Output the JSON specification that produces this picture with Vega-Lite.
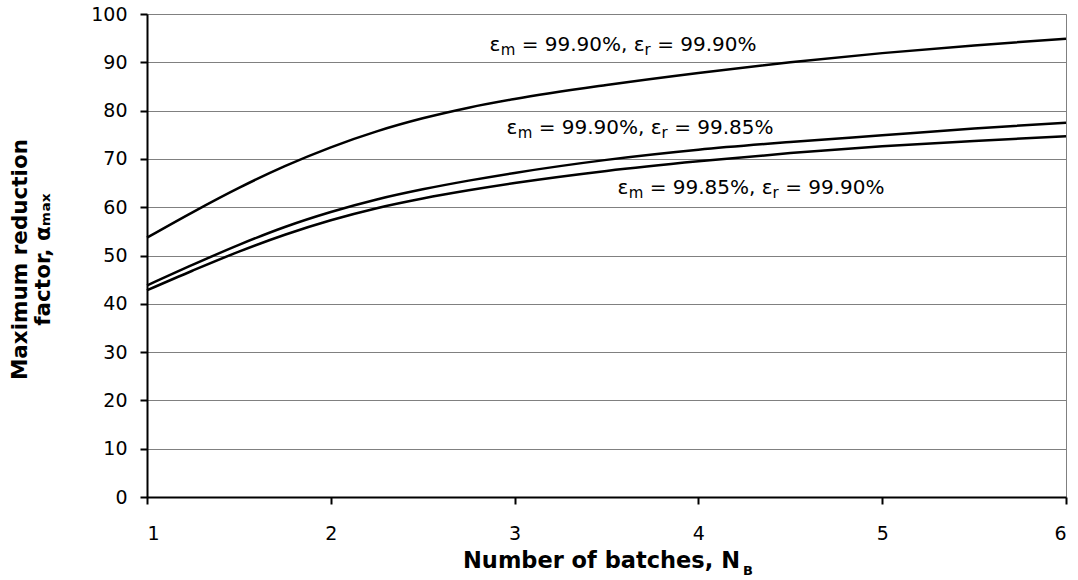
{
  "$schema": "https://vega.github.io/schema/vega-lite/v6.json",
  "width": 919,
  "height": 483,
  "autosize": {"type": "none"},
  "padding": {"left": 147, "top": 14, "right": 12, "bottom": 83},
  "background": "white",
  "config": {
    "font": "DejaVu Sans",
    "view": {"stroke": "#808080", "strokeWidth": 1},
    "axis": {
      "domainColor": "black", "domainWidth": 2,
      "tickColor": "black", "tickWidth": 2, "tickSize": 7,
      "labelFont": "DejaVu Sans", "labelFontSize": 19, "labelColor": "black",
      "titleFont": "DejaVu Sans", "titleFontWeight": "bold", "titleColor": "black",
      "gridColor": "#808080", "gridWidth": 1, "gridOpacity": 1
    }
  },
  "datasets": {
    "curves": [
      {"series": "A", "nb": 1, "alpha": 53.7},
      {"series": "A", "nb": 1.25, "alpha": 59.0},
      {"series": "A", "nb": 1.5, "alpha": 64.0},
      {"series": "A", "nb": 1.75, "alpha": 68.5},
      {"series": "A", "nb": 2, "alpha": 72.4},
      {"series": "A", "nb": 2.25, "alpha": 75.7},
      {"series": "A", "nb": 2.5, "alpha": 78.4},
      {"series": "A", "nb": 2.75, "alpha": 80.6},
      {"series": "A", "nb": 3, "alpha": 82.4},
      {"series": "A", "nb": 3.5, "alpha": 85.3},
      {"series": "A", "nb": 4, "alpha": 87.8},
      {"series": "A", "nb": 4.5, "alpha": 90.0},
      {"series": "A", "nb": 5, "alpha": 91.9},
      {"series": "A", "nb": 5.5, "alpha": 93.5},
      {"series": "A", "nb": 6, "alpha": 94.9},
      {"series": "B", "nb": 1, "alpha": 43.8},
      {"series": "B", "nb": 1.25, "alpha": 48.1},
      {"series": "B", "nb": 1.5, "alpha": 52.2},
      {"series": "B", "nb": 1.75, "alpha": 55.9},
      {"series": "B", "nb": 2, "alpha": 59.0},
      {"series": "B", "nb": 2.25, "alpha": 61.6},
      {"series": "B", "nb": 2.5, "alpha": 63.7},
      {"series": "B", "nb": 2.75, "alpha": 65.5},
      {"series": "B", "nb": 3, "alpha": 67.1},
      {"series": "B", "nb": 3.5, "alpha": 69.8},
      {"series": "B", "nb": 4, "alpha": 71.9},
      {"series": "B", "nb": 4.5, "alpha": 73.5},
      {"series": "B", "nb": 5, "alpha": 74.9},
      {"series": "B", "nb": 5.5, "alpha": 76.3},
      {"series": "B", "nb": 6, "alpha": 77.5},
      {"series": "C", "nb": 1, "alpha": 42.8},
      {"series": "C", "nb": 1.25, "alpha": 46.9},
      {"series": "C", "nb": 1.5, "alpha": 50.8},
      {"series": "C", "nb": 1.75, "alpha": 54.3},
      {"series": "C", "nb": 2, "alpha": 57.3},
      {"series": "C", "nb": 2.25, "alpha": 59.8},
      {"series": "C", "nb": 2.5, "alpha": 61.8},
      {"series": "C", "nb": 2.75, "alpha": 63.5},
      {"series": "C", "nb": 3, "alpha": 65.0},
      {"series": "C", "nb": 3.5, "alpha": 67.5},
      {"series": "C", "nb": 4, "alpha": 69.5},
      {"series": "C", "nb": 4.5, "alpha": 71.2},
      {"series": "C", "nb": 5, "alpha": 72.6},
      {"series": "C", "nb": 5.5, "alpha": 73.7},
      {"series": "C", "nb": 6, "alpha": 74.7}
    ],
    "labels": [
      {"label": 1, "role": "main", "piece": "ε", "nb": 2.8629, "alpha": 92.3},
      {"label": 1, "role": "sub", "piece": "m", "nb": 2.9244, "alpha": 91.5},
      {"label": 1, "role": "main", "piece": "= 99.90%, ε", "nb": 3.0386, "alpha": 92.3},
      {"label": 1, "role": "sub", "piece": "r", "nb": 3.7073, "alpha": 91.5},
      {"label": 1, "role": "main", "piece": "= 99.90%", "nb": 3.7758, "alpha": 92.3},
      {"label": 2, "role": "main", "piece": "ε", "nb": 2.9554, "alpha": 75.2},
      {"label": 2, "role": "sub", "piece": "m", "nb": 3.0169, "alpha": 74.4},
      {"label": 2, "role": "main", "piece": "= 99.90%, ε", "nb": 3.1311, "alpha": 75.2},
      {"label": 2, "role": "sub", "piece": "r", "nb": 3.7998, "alpha": 74.4},
      {"label": 2, "role": "main", "piece": "= 99.85%", "nb": 3.8683, "alpha": 75.2},
      {"label": 3, "role": "main", "piece": "ε", "nb": 3.5593, "alpha": 62.8},
      {"label": 3, "role": "sub", "piece": "m", "nb": 3.6208, "alpha": 62.0},
      {"label": 3, "role": "main", "piece": "= 99.85%, ε", "nb": 3.7350, "alpha": 62.8},
      {"label": 3, "role": "sub", "piece": "r", "nb": 4.4037, "alpha": 62.0},
      {"label": 3, "role": "main", "piece": "= 99.90%", "nb": 4.4722, "alpha": 62.8}
    ],
    "sub": [
      {"text": "B", "nb": 4.243, "alpha": -16.2}
    ]
  },
  "layer": [
    {
      "data": {"name": "curves"},
      "mark": {"type": "line", "color": "black", "strokeWidth": 2.5, "interpolate": "monotone"},
      "encoding": {
        "x": {
          "field": "nb", "type": "quantitative",
          "scale": {"domain": [1, 6], "nice": false, "zero": false},
          "axis": {
            "values": [1, 2, 3, 4, 5, 6], "grid": false, "format": "d",
            "labelPadding": 20,
            "title": "Number of batches, N",
            "titleFontSize": 22.5,
            "titleX": 454, "titleY": 70, "titleBaseline": "alphabetic", "titleAlign": "center"
          }
        },
        "y": {
          "field": "alpha", "type": "quantitative",
          "scale": {"domain": [0, 100], "nice": false},
          "axis": {
            "values": [0, 10, 20, 30, 40, 50, 60, 70, 80, 90, 100],
            "labelPadding": 13,
            "title": ["Maximum reduction", "factor, αₘₐₓ"],
            "titleFontSize": 21.5,
            "titleLineHeight": 23,
            "titleAngle": -90, "titleX": -127, "titleY": 245, "titleAlign": "center", "titleBaseline": "middle"
          }
        },
        "detail": {"field": "series", "type": "nominal"}
      }
    },
    {
      "data": {"name": "labels"},
      "mark": {"type": "text", "align": "left", "baseline": "alphabetic", "color": "black", "font": "DejaVu Sans"},
      "encoding": {
        "x": {"field": "nb", "type": "quantitative"},
        "y": {"field": "alpha", "type": "quantitative"},
        "text": {"field": "piece", "type": "nominal"},
        "size": {"field": "role", "type": "nominal", "scale": {"domain": ["main", "sub"], "range": [20, 15]}, "legend": null},
        "detail": {"field": "label", "type": "nominal"}
      }
    },
    {
      "data": {"name": "sub"},
      "mark": {"type": "text", "align": "left", "baseline": "alphabetic", "fontSize": 13, "fontWeight": "bold", "color": "black", "clip": false, "font": "DejaVu Sans"},
      "encoding": {
        "x": {"field": "nb", "type": "quantitative"},
        "y": {"field": "alpha", "type": "quantitative"},
        "text": {"field": "text", "type": "nominal"}
      }
    }
  ]
}
